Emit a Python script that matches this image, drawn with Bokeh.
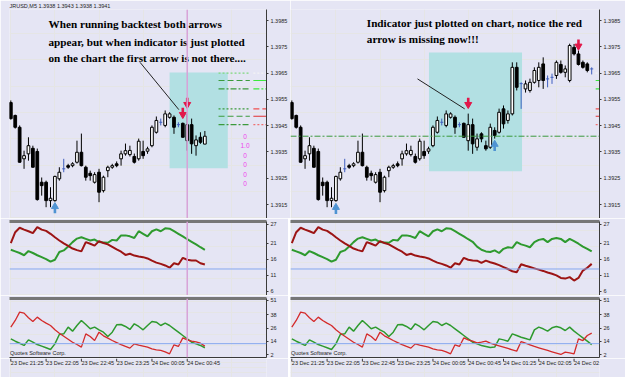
from bokeh.plotting import figure
from bokeh.models import Span, Label, LinearAxis, FixedTicker, PrintfTickFormatter, Range1d
from bokeh.layouts import row, column
from bokeh.embed import file_html
from bokeh.resources import INLINE
from bokeh.core.properties import value

# ---------------- data ----------------
time_labels = ["23 Dec 21:25", "23 Dec 22:05", "23 Dec 22:45", "23 Dec 23:25", "24 Dec 00:05",
               "24 Dec 00:45", "24 Dec 01:25", "24 Dec 02:05", "24 Dec 02:45"]
bars_per_label = 8
header_text = "JRUSD,M5  1.3938 1.3943 1.3938 1.3941"

shared_open = [1.39538, 1.39489, 1.39444, 1.39324, 1.39343, 1.39364, 1.39352, 1.39235, 1.39235, 1.39165,
               1.39165, 1.39248, 1.39286, 1.39298, 1.39298, 1.39311, 1.39349, 1.39292, 1.39269, 1.39235,
               1.39273, 1.39203, 1.39279, 1.39292, 1.39305, 1.39324, 1.39343, 1.39340, 1.39333, 1.39324,
               1.39352, 1.39353, 1.39374, 1.39425, 1.39463, 1.39451, 1.39482, 1.39482, 1.39454, 1.39459,
               1.39393, 1.39454]
shared_high = [1.39546, 1.39492, 1.39451, 1.39355, 1.39406, 1.39374, 1.39363, 1.39253, 1.39241, 1.39216,
               1.39260, 1.39292, 1.39324, 1.39305, 1.39311, 1.39393, 1.39420, 1.39298, 1.39279, 1.39273,
               1.39286, 1.39260, 1.39298, 1.39305, 1.39314, 1.39355, 1.39382, 1.39374, 1.39344, 1.39401,
               1.39393, 1.39370, 1.39451, 1.39485, 1.39477, 1.39508, 1.39501, 1.39489, 1.39463, 1.39462,
               1.39496, 1.39477]
shared_low = [1.39473, 1.39439, 1.39310, 1.39286, 1.39317, 1.39291, 1.39165, 1.39184, 1.39140, 1.39140,
              1.39161, 1.39241, 1.39273, 1.39286, 1.39292, 1.39306, 1.39295, 1.39241, 1.39241, 1.39230,
              1.39159, 1.39196, 1.39254, 1.39286, 1.39292, 1.39298, 1.39336, 1.39333, 1.39306, 1.39317,
              1.39324, 1.39343, 1.39368, 1.39420, 1.39451, 1.39444, 1.39477, 1.39419, 1.39444, 1.39405,
              1.39355, 1.39343]
shared_close = [1.39477, 1.39444, 1.39311, 1.39336, 1.39374, 1.39292, 1.39169, 1.39222, 1.39165, 1.39174,
                1.39257, 1.39273, 1.39286, 1.39292, 1.39305, 1.39349, 1.39298, 1.39254, 1.39260, 1.39264,
                1.39197, 1.39254, 1.39292, 1.39298, 1.39298, 1.39343, 1.39355, 1.39356, 1.39311, 1.39391,
                1.39336, 1.39362, 1.39444, 1.39470, 1.39463, 1.39495, 1.39495, 1.39444, 1.39454, 1.39406,
                1.39454, 1.39381]

left_tail_open = [1.39374, 1.39406, 1.3938]
left_tail_high = [1.39413, 1.39425, 1.3943]
left_tail_low = [1.39336, 1.39381, 1.3938]
left_tail_close = [1.39396, 1.39387, 1.3941]

right_tail_open = [1.39368, 1.39419, 1.39374, 1.39368, 1.39432, 1.39425, 1.39514, 1.39470, 1.39495, 1.39672,
                   1.39610, 1.39590, 1.39584, 1.39615, 1.39622, 1.39685, 1.39628, 1.39634, 1.39641, 1.39683,
                   1.39653, 1.39622, 1.39748, 1.39723, 1.39691, 1.39685, 1.39666]
right_tail_high = [1.39420, 1.39425, 1.39393, 1.39458, 1.39444, 1.39515, 1.39527, 1.39508, 1.39691, 1.39691,
                   1.39615, 1.39622, 1.39629, 1.39672, 1.39691, 1.39710, 1.39641, 1.39648, 1.39698, 1.39698,
                   1.39679, 1.39762, 1.39761, 1.39736, 1.39698, 1.39691, 1.39672]
right_tail_low = [1.39355, 1.39387, 1.39355, 1.39362, 1.39401, 1.39420, 1.39439, 1.39458, 1.39489, 1.39584,
                  1.39514, 1.39576, 1.39576, 1.39610, 1.39596, 1.39590, 1.39596, 1.39609, 1.39628, 1.39648,
                  1.39634, 1.39615, 1.39717, 1.39679, 1.39667, 1.39653, 1.39645]
right_tail_close = [1.39400, 1.39400, 1.39362, 1.39444, 1.39413, 1.39501, 1.39457, 1.39495, 1.39672, 1.39596,
                    1.39610, 1.39609, 1.39615, 1.39660, 1.39672, 1.39622, 1.39628, 1.39634, 1.39691, 1.39653,
                    1.39666, 1.39755, 1.39723, 1.39683, 1.39672, 1.39660, 1.39666]

# indicator 1 (thick lines)
ind1_red_shared = [21.1, 24.5, 25.9, 25.3, 24.8, 24.2, 26.1, 25.3, 24.9, 24.0, 22.9, 21.9, 21.0, 20.2, 19.4,
                   18.9, 18.5, 21.4, 20.9, 20.3, 21.7, 21.1, 20.7, 19.9, 19.1, 18.4, 17.4, 17.75, 17.2, 16.9,
                   16.7, 16.3, 15.6, 15.0, 14.6, 14.1, 13.4, 14.8, 14.4, 16.5, 15.9, 15.65]
ind1_green_shared = [19.0, 18.5, 18.0, 17.3, 18.6, 18.0, 17.3, 16.7, 16.1, 15.3, 15.9, 18.3, 18.8, 20.0, 21.4,
                     22.5, 22.9, 22.4, 21.9, 22.2, 21.4, 21.3, 21.2, 22.1, 21.9, 23.5, 23.5, 23.2, 22.7, 24.8,
                     24.0, 23.2, 24.8, 25.4, 24.8, 25.7, 25.6, 24.8, 24.0, 23.2, 22.3, 21.5]
ind1_red_left_tail = [15.65, 14.8, 14.4]
ind1_green_left_tail = [20.7, 19.8, 19.0]
ind1_red_right_tail = [15.6, 14.9, 15.6, 15.1, 14.7, 14.2, 13.6, 13.0, 12.3, 12.0, 14.5, 14.0, 13.6, 13.2,
                       12.8, 12.4, 11.9, 11.5, 11.0, 10.2, 10.0, 10.45, 9.4, 10.2, 12.5, 13.4, 14.6]
ind1_green_right_tail = [20.0, 19.0, 18.5, 18.3, 18.8, 18.0, 19.3, 19.8, 19.6, 21.4, 20.7, 20.3, 19.8, 21.4,
                         22.1, 22.4, 21.4, 22.4, 22.7, 22.4, 21.4, 22.4, 21.7, 20.9, 20.0, 19.3, 18.5]

# indicator 2 (thin lines)
ind2_red_shared = [26.8, 32.8, 40.3, 39.4, 35.2, 31.9, 35.8, 32.8, 30.4, 28.3, 24.4, 21.4, 18.7, 16.0, 13.3,
                   11.2, 8.9, 20.8, 18.4, 14.8, 22.3, 19.0, 16.9, 14.8, 13.0, 11.2, 9.5, 8.0, 11.8, 10.6,
                   9.8, 8.9, 7.4, 6.5, 5.9, 4.7, 2.9, 11.0, 9.5, 17.2, 15.4, 14.2]
ind2_green_shared = [16.3, 14.2, 12.4, 10.4, 15.4, 13.3, 11.2, 9.8, 8.3, 6.8, 11.8, 20.2, 20.8, 26.8, 23.2,
                     28.3, 32.8, 29.2, 25.3, 26.8, 24.4, 22.3, 18.4, 22.3, 28.9, 29.2, 27.4, 24.7, 29.8, 27.4,
                     24.4, 28.3, 31.9, 31.3, 28.3, 30.4, 28.3, 25.3, 22.3, 19.3, 16.3, 13.3]
ind2_red_left_tail = [13.6, 12.4, 9.8]
ind2_green_left_tail = [11.8, 10.4, 8.3]
ind2_red_right_tail = [12.7, 13.3, 14.2, 12.4, 11.2, 10.1, 8.9, 7.7, 6.5, 5.3, 13.9, 12.4, 11.0, 9.5, 8.3,
                       7.1, 5.9, 4.7, 3.5, 2.3, 4.4, 3.8, 2.9, 16.3, 14.8, 19.3, 21.4]
ind2_green_right_tail = [11.8, 10.4, 9.5, 8.6, 8.9, 16.3, 15.4, 14.2, 20.8, 19.3, 17.8, 16.6, 15.4, 24.4,
                         26.8, 25.3, 23.2, 26.2, 27.4, 26.2, 23.8, 26.8, 23.2, 20.2, 17.2, 14.2, 11.2]

price_ticks = [1.3915, 1.3925, 1.3935, 1.3945, 1.3955, 1.3965, 1.3975, 1.3985]
ind1_ticks = [6, 11, 16, 21, 27]
ind2_ticks = [2, 14, 26, 38, 51]
ind1_level, ind1_box = 13, "13"
ind2_level, ind2_box = 12, "14"
marked_price = 1.3941

left_up_bars, left_up_prices = [10], [1.39134]
left_down_bars, left_down_prices = [39, 40], [1.39501, 1.39539]
right_up_bars, right_up_prices = [10, 46], [1.39131, 1.39371]
right_down_bars, right_down_prices = [40, 65], [1.39539, 1.39761]

left_box = (36.0, 49.2, 1.39288, 1.39652)
right_box = (31.1, 52.2, 1.39277, 1.39728)
left_cursor_bar = 40

level_prices = [1.39650, 1.39622, 1.39590, 1.39514, 1.39486, 1.39454]
level_inner_dash = ["2 2", "6 3", "6 2 2 2", "2 2", "6 3", "6 2 2 2"]
level_inner_color = ["#7FD87F", "#3C9A3C", "#3C9A3C", "#3C9A3C", "#3C9A3C", "#3C9A3C"]
level_outer_dash = ["2 2", "solid", "6 2 2 2", "6 3", "solid", "2 2"]
level_outer_color = ["#F4F4F4", "#3CE83C", "#3CE83C", "#F05050", "#E03030", "#F07070"]

magenta_texts = ["0", "1.0", "0", "0", "0", "0"]
magenta_prices = [1.39409, 1.39374, 1.39336, 1.39301, 1.39264, 1.39229]

left_note = ["When running backtest both arrows",
             "appear, but when indicator is just plotted",
             "on the chart the first arrow is not there...."]
left_note_prices = [1.39837, 1.39770, 1.39707]
right_note = ["Indicator just plotted on chart, notice the red",
              "arrow is missing now!!!"]
right_note_prices = [1.39841, 1.39779]
left_pointer = ([29.3, 38.1], [1.39691, 1.39511])
right_pointer = ([28.5, 39.2], [1.39628, 1.39514])

# ---------------- style ----------------
BG = "#E5E5F4"
AXC = "#3A3A3A"
TXT = "#1E1E1E"
FS = "5.5px"
TFONT = "Liberation Sans"
RED1, GRN1 = "#9C1414", "#2E9A2E"
RED2, GRN2 = "#D42A2A", "#2E9A2E"
LEVEL_BLUE = "#86A8EE"
DOJI = "#3F5FBF"
ARROW_RED, ARROW_BLUE = "#E2174A", "#4F93D2"
PINK = "#D7A2D7"

MAIN_Y = (1.39097, 1.39892)
IND1_Y = (4.72, 27.84)
IND2_Y = (-0.42, 52.5)
PX_PER_BAR = 4.41


def base_fig(xr, yr, fw, fh, mbl, mbr, mbt, mbb, title=None):
    kw = {}
    if title is not None:
        kw["title"] = title
    p = figure(x_range=xr, y_range=Range1d(*yr), frame_width=fw, frame_height=fh,
               min_border_left=mbl, min_border_right=mbr, min_border_top=mbt, min_border_bottom=mbb,
               output_backend="svg", toolbar_location=None, x_axis_location=None, y_axis_location=None,
               background_fill_color=BG, border_fill_color=BG, outline_line_color=None, **kw)
    return p


def right_axis(p, ticks, fmt=None):
    ax = LinearAxis(ticker=FixedTicker(ticks=ticks), axis_line_color=AXC, axis_line_width=1,
                    major_tick_line_color=AXC, major_tick_out=2, major_tick_in=0,
                    minor_tick_line_color=None, major_label_text_font_size=FS,
                    major_label_text_color=TXT, major_label_standoff=2,
                    major_label_text_font=TFONT)
    if fmt:
        ax.formatter = PrintfTickFormatter(format=fmt)
    p.add_layout(ax, "right")


def line_axis(p, side, color, width):
    ax = LinearAxis(ticker=FixedTicker(ticks=[]), axis_line_color=color, axis_line_width=width,
                    major_tick_line_color=None, minor_tick_line_color=None, major_label_standoff=0)
    p.add_layout(ax, side)


def draw_candles(p, o, h, l, c):
    idx = list(range(len(o)))
    body = [i for i in idx if c[i] != o[i]]
    bull = [i for i in idx if c[i] > o[i]]
    bear = [i for i in idx if c[i] < o[i]]
    doji = [i for i in idx if c[i] == o[i]]
    p.segment(x0=body, y0=[h[i] for i in body], x1=body, y1=[l[i] for i in body],
              line_color="black", line_width=1)
    p.vbar(x=bull, top=[c[i] for i in bull], bottom=[o[i] for i in bull], width=0.62,
           fill_color="white", line_color="black", line_width=1)
    p.vbar(x=bear, top=[o[i] for i in bear], bottom=[c[i] for i in bear], width=0.62,
           fill_color="black", line_color="black", line_width=1)
    p.segment(x0=doji, y0=[h[i] for i in doji], x1=doji, y1=[l[i] for i in doji],
              line_color=DOJI, line_width=1)
    p.segment(x0=[i - 0.35 for i in doji], y0=[o[i] for i in doji],
              x1=[i + 0.35 for i in doji], y1=[o[i] for i in doji], line_color=DOJI, line_width=1)


def draw_arrows(p, bars, prices, up, color):
    ppx = (MAIN_Y[1] - MAIN_Y[0]) / 209.0
    s = -1 if up else 1
    p.segment(x0=bars, y0=[y + s * 4.5 * ppx for y in prices], x1=bars, y1=[y - s * 0.5 * ppx for y in prices],
              line_color=color, line_width=2.6)
    p.scatter(x=bars, y=[y - s * 2.2 * ppx for y in prices], marker="triangle" if up else "inverted_triangle",
              size=7, fill_color=color, line_color=color)


def build(n_fw, mbl, mbr, o, h, l, c, r1, g1, r2, g2, n_labels, is_left):
    x0 = -0.3
    xr = Range1d(x0, x0 + n_fw / PX_PER_BAR)
    xend = x0 + n_fw / PX_PER_BAR
    # ---- main
    main = base_fig(xr, MAIN_Y, n_fw, 209, mbl, mbr, 9, 0, title=header_text if is_left else None)
    if is_left:
        main.title.text_font_size = FS
        main.title.text_font = TFONT
        main.title.text_font_style = "normal"
        main.title.text_color = TXT
        main.title.standoff = 1
        main.title.offset = 0
    box = left_box if is_left else right_box
    main.quad(left=[box[0]], right=[box[1]], bottom=[box[2]], top=[box[3]],
              fill_color="#B2E0E3", line_color=None)
    if is_left:
        main.add_layout(Span(location=left_cursor_bar, dimension="height", line_color=PINK, line_width=1.5))
        for pr, d, col in zip(level_prices, level_inner_dash, level_inner_color):
            main.segment(x0=[47.1], y0=[pr], x1=[54.2], y1=[pr], line_color=col, line_dash=d, line_width=1.2)
        for pr, d, col in zip(level_prices, level_outer_dash, level_outer_color):
            main.segment(x0=[55.0], y0=[pr], x1=[xend], y1=[pr], line_color=col, line_dash=d, line_width=1.2)
        main.text(x=[53.1] * len(magenta_texts), y=magenta_prices, text=magenta_texts,
                  text_color="#EE44EE", text_font_size="6.5px", text_align="center",
                  text_baseline="middle", text_font=value(TFONT))
    else:
        main.add_layout(Span(location=marked_price, dimension="width", line_color="#3C9A3C",
                             line_dash="6 2 2 2", line_width=1))
        for pr, d, col in zip(level_prices, level_outer_dash, level_outer_color):
            main.segment(x0=[68.9], y0=[pr], x1=[xend], y1=[pr], line_color=col, line_dash=d, line_width=1.2)
    draw_candles(main, o, h, l, c)
    if is_left:
        draw_arrows(main, left_up_bars, left_up_prices, True, ARROW_BLUE)
        draw_arrows(main, left_down_bars, left_down_prices, False, ARROW_RED)
        notes, note_y, note_x, ptr = left_note, left_note_prices, 8.55, left_pointer
    else:
        draw_arrows(main, right_up_bars, right_up_prices, True, ARROW_BLUE)
        draw_arrows(main, right_down_bars, right_down_prices, False, ARROW_RED)
        notes, note_y, note_x, ptr = right_note, right_note_prices, 17.0, right_pointer
    main.line(x=ptr[0], y=ptr[1], line_color="#222222", line_width=1)
    main.text(x=[note_x] * len(notes), y=note_y, text=notes, text_font=value("Liberation Serif"),
              text_font_style="bold", text_font_size="11.2px", text_color="black",
              text_baseline="middle", text_align="left")
    right_axis(main, price_ticks, "%.4f")
    main.add_layout(Label(x=xend, y=marked_price, text=f"{marked_price:.4f}", x_offset=1,
                          text_font_size=FS, text_font=TFONT, text_color="white", text_baseline="middle",
                          background_fill_color="black", padding=1))

    bars = list(range(len(o)))
    # ---- indicator 1
    i1 = base_fig(xr, IND1_Y, n_fw, 74, mbl, mbr, 3, 0)
    line_axis(i1, "above", "#777777", 3)
    i1.add_layout(Span(location=ind1_level, dimension="width", line_color=LEVEL_BLUE, line_width=1))
    if is_left:
        i1.add_layout(Span(location=left_cursor_bar, dimension="height", line_color=PINK, line_width=1.5))
    i1.line(x=bars, y=g1, line_color=GRN1, line_width=2)
    i1.line(x=bars, y=r1, line_color=RED1, line_width=2)
    right_axis(i1, ind1_ticks)
    i1.add_layout(Label(x=xend, y=ind1_level, text=ind1_box, x_offset=1, text_font_size=FS, text_font=TFONT,
                        text_color="#2F5FD0", text_baseline="middle", background_fill_color="#DDE6FF",
                        border_line_color="#6F8FE0", padding=1))

    # ---- indicator 2
    i2 = base_fig(xr, IND2_Y, n_fw, 59, mbl, mbr, 3, 1)
    line_axis(i2, "above", "#777777", 3)
    line_axis(i2, "below", AXC, 1)
    i2.add_layout(Span(location=ind2_level, dimension="width", line_color=LEVEL_BLUE, line_width=1))
    if is_left:
        i2.add_layout(Span(location=left_cursor_bar, dimension="height", line_color=PINK, line_width=1.5))
    i2.line(x=bars, y=g2, line_color=GRN2, line_width=1.5)
    i2.line(x=bars, y=r2, line_color=RED2, line_width=1.3)
    i2.text(x=[x0 + 0.1], y=[3.4], text=["Quotes Software Corp."], text_font=value(TFONT),
            text_font_size=FS, text_color=TXT, text_baseline="middle")
    right_axis(i2, ind2_ticks)
    i2.add_layout(Label(x=xend, y=ind2_level, text=ind2_box, x_offset=1, text_font_size=FS, text_font=TFONT,
                        text_color="#2F5FD0", text_baseline="middle", background_fill_color="#DDE6FF",
                        border_line_color="#6F8FE0", padding=1))

    # ---- time label strip with tick marks
    tick_bars = [k * bars_per_label for k in range(n_labels)]
    st = base_fig(xr, (0, 19), n_fw, 19, mbl, mbr, 0, 0)
    st.segment(x0=tick_bars, y0=[19] * n_labels, x1=tick_bars, y1=[16] * n_labels,
               line_color=AXC, line_width=1)
    st.text(x=tick_bars, y=[17.5] * n_labels, text=time_labels[:n_labels], text_font=value(TFONT),
            text_font_size=FS, text_color=TXT, text_baseline="top", text_align="left")
    return column(main, i1, i2, st, spacing=0)


left_col = build(257, 9, 22,
                 shared_open + left_tail_open, shared_high + left_tail_high,
                 shared_low + left_tail_low, shared_close + left_tail_close,
                 ind1_red_shared + ind1_red_left_tail, ind1_green_shared + ind1_green_left_tail,
                 ind2_red_shared + ind2_red_left_tail, ind2_green_shared + ind2_green_left_tail,
                 6, True)
right_col = build(309, 0, 28,
                  shared_open + right_tail_open, shared_high + right_tail_high,
                  shared_low + right_tail_low, shared_close + right_tail_close,
                  ind1_red_shared + ind1_red_right_tail, ind1_green_shared + ind1_green_right_tail,
                  ind2_red_shared + ind2_red_right_tail, ind2_green_shared + ind2_green_right_tail,
                  9, False)

layout = row(left_col, right_col, spacing=0)
open("out.html", "w").write(file_html(layout, INLINE))
